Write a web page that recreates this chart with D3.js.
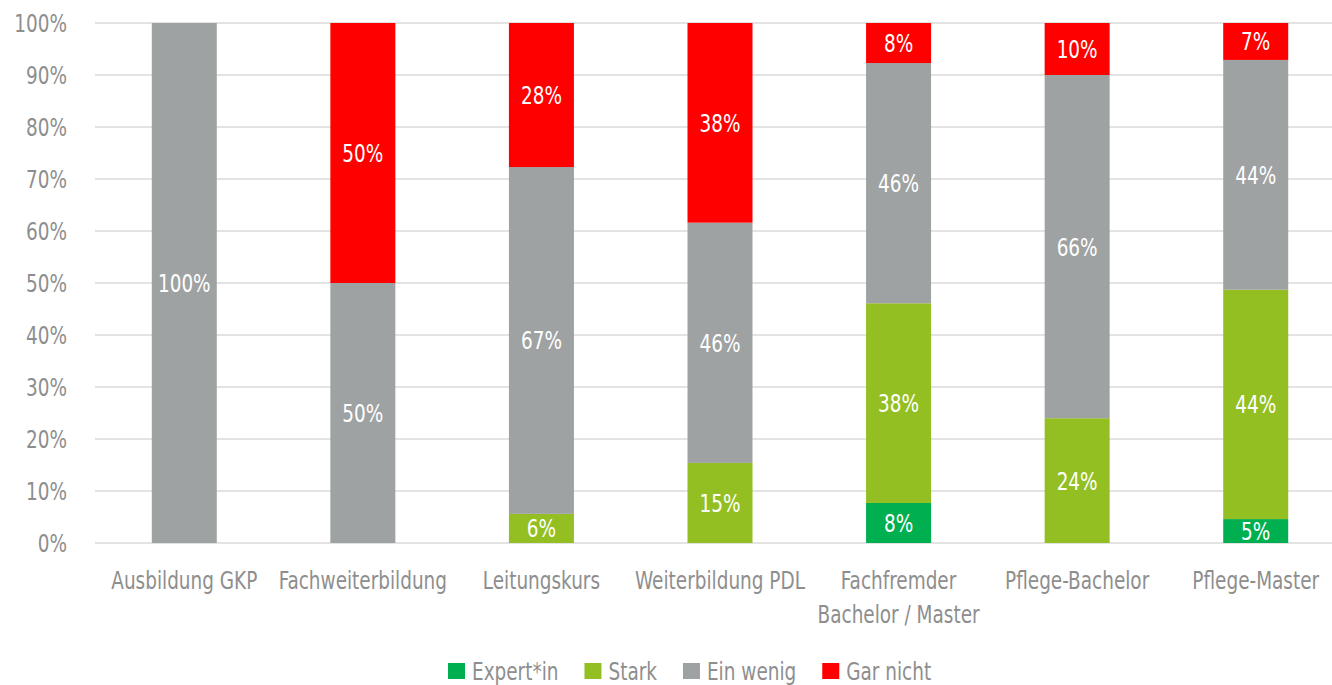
<!DOCTYPE html>
<html>
<head>
<meta charset="utf-8">
<script src="https://cdn.jsdelivr.net/npm/d3@7"></script>
<style>
  html, body { margin: 0; padding: 0; background: #fff; }
  svg { display: block; }
  text { font-family: "DejaVu Sans Condensed", "Liberation Sans Narrow", sans-serif; }
</style>
</head>
<body>
<svg id="chart" width="1332" height="685"></svg>
<script>
// Qualification categories (second line after "\n")
const categories = [
  "Ausbildung GKP",
  "Fachweiterbildung",
  "Leitungskurs",
  "Weiterbildung PDL",
  "Fachfremder\nBachelor / Master",
  "Pflege-Bachelor",
  "Pflege-Master"
];

// Series names, stacked from bottom to top
const seriesNames = ["Expert*in", "Stark", "Ein wenig", "Gar nicht"];

// Shares in percent, one value per category
const expertin = [0, 0, 0, 0, 7.7, 0, 4.6];
const stark    = [0, 0, 5.6, 15.4, 38.4, 24, 44.1];
const einWenig = [100, 50, 66.7, 46.2, 46.2, 66, 44.2];
const garNicht = [0, 50, 27.7, 38.4, 7.7, 10, 7.1];

const yTicks = [0, 10, 20, 30, 40, 50, 60, 70, 80, 90, 100];

const colors = ["#00AF50", "#93BF22", "#9FA2A2", "#FF0000"];

const seriesValues = [expertin, stark, einWenig, garNicht];
const rows = categories.map((c, i) => {
  const r = { category: c };
  seriesNames.forEach((s, k) => { r[s] = seriesValues[k][i]; });
  return r;
});

const svg = d3.select("#chart");
const W = 1332, H = 685;
const margin = { left: 95, right: -13, top: 23, bottom: 142 };
const plotRight = W - margin.right;
const plotBottom = H - margin.bottom;

const x = d3.scaleBand()
  .domain(categories)
  .range([margin.left, plotRight])
  .paddingInner(0.636)
  .paddingOuter(0.318);

const y = d3.scaleLinear()
  .domain([0, 100])
  .range([plotBottom, margin.top]);

const textColor = "#8E8E8E";
const fontSize = 25;
const squeeze = 0.82; // horizontal compression of the condensed face

// Place a text element at (px, py) with narrowed glyphs
function place(sel, px, py) {
  sel.attr("transform", d => {
    const X = typeof px === "function" ? px(d) : px;
    const Y = typeof py === "function" ? py(d) : py;
    return `translate(${X},${Y}) scale(${squeeze},1)`;
  });
}

// Horizontal gridlines
svg.append("g")
  .selectAll("line")
  .data(yTicks)
  .join("line")
  .attr("x1", margin.left)
  .attr("x2", W)
  .attr("y1", d => y(d))
  .attr("y2", d => y(d))
  .attr("stroke", "#E3E3E3")
  .attr("stroke-width", 2);

// Y axis labels
svg.append("g")
  .selectAll("text")
  .data(yTicks)
  .join("text")
  .attr("text-anchor", "end")
  .attr("dy", "0.36em")
  .attr("fill", textColor)
  .style("font-size", fontSize + "px")
  .text(d => d + "%")
  .call(place, 67, d => y(d));

// Stacked bars
const stack = d3.stack().keys(seriesNames);
const layers = stack(rows);

const layerG = svg.append("g")
  .selectAll("g")
  .data(layers)
  .join("g")
  .attr("fill", (d, i) => colors[i]);

layerG.selectAll("rect")
  .data(d => d.map(p => ({ p, key: d.key })))
  .join("rect")
  .attr("x", d => x(d.p.data.category))
  .attr("width", x.bandwidth())
  .attr("y", d => y(d.p[1]))
  .attr("height", d => y(d.p[0]) - y(d.p[1]));

// Value labels inside segments
layerG.selectAll("text")
  .data(d => d.map(p => ({ p, key: d.key })).filter(d => d.p[1] - d.p[0] > 0))
  .join("text")
  .attr("dy", "0.36em")
  .attr("text-anchor", "middle")
  .attr("fill", "#FFFFFF")
  .style("font-size", fontSize + "px")
  .text(d => Math.round(d.p[1] - d.p[0]) + "%")
  .call(place,
    d => x(d.p.data.category) + x.bandwidth() / 2,
    d => y((d.p[0] + d.p[1]) / 2));

// Category labels
const xLabels = svg.append("g")
  .selectAll("text")
  .data(categories)
  .join("text")
  .attr("text-anchor", "middle")
  .attr("fill", textColor)
  .style("font-size", fontSize + "px")
  .call(place, d => x(d) + x.bandwidth() / 2, 589);
xLabels.selectAll("tspan")
  .data(d => d.split("\n"))
  .join("tspan")
  .attr("x", 0)
  .attr("dy", (d, i) => i === 0 ? 0 : 34)
  .text(d => d);

// Legend
const legend = svg.append("g");
const items = legend.selectAll("g")
  .data(seriesNames)
  .join("g");
items.append("rect")
  .attr("width", 17)
  .attr("height", 16)
  .attr("y", 663)
  .attr("fill", (d, i) => colors[i]);
items.append("text")
  .attr("fill", textColor)
  .style("font-size", fontSize + "px")
  .text(d => d)
  .call(place, 24, 680);
let offset = 0;
const gap = 26;
const positions = [];
items.each(function () {
  const t = d3.select(this).select("text").node();
  const w = 24 + t.getComputedTextLength() * squeeze;
  positions.push(offset);
  offset += w + gap;
});
const startX = 448;
items.attr("transform", (d, i) => `translate(${startX + positions[i]},0)`);
</script>
</body>
</html>
